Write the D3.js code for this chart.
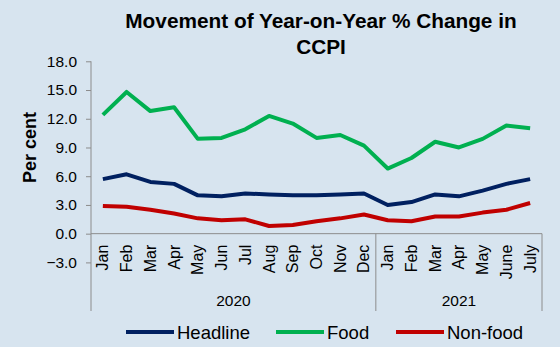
<!DOCTYPE html>
<html>
<head>
<meta charset="utf-8">
<script src="https://cdn.jsdelivr.net/npm/d3@7"></script>
<style>
  html, body { margin: 0; padding: 0; background: #d7e4ef; }
  svg { display: block; font-family: "Liberation Sans", Arial, sans-serif; }
</style>
</head>
<body>
<div id="chart"></div>
<script>
// month labels and year groups along the x axis
const months = ['Jan', 'Feb', 'Mar', 'Apr', 'May', 'Jun', 'Jul', 'Aug', 'Sep', 'Oct', 'Nov', 'Dec',
                'Jan', 'Feb', 'Mar', 'Apr', 'May', 'June', 'July'];
const years = ['2020', '2021'];
const yearLengths = [12, 7];

// year-on-year % change, CCPI
const headline = [5.7, 6.2, 5.4, 5.2, 4.0, 3.9, 4.2, 4.1, 4.0, 4.0, 4.1, 4.2,
                  3.0, 3.3, 4.1, 3.9, 4.5, 5.2, 5.7];
const food = [12.4, 14.8, 12.8, 13.2, 9.9, 10.0, 10.9, 12.3, 11.5, 10.0, 10.3, 9.2,
              6.8, 7.9, 9.6, 9.0, 9.9, 11.3, 11.0];
const nonFood = [2.9, 2.8, 2.5, 2.1, 1.6, 1.4, 1.5, 0.8, 0.9, 1.3, 1.6, 2.0,
                 1.4, 1.3, 1.8, 1.8, 2.2, 2.5, 3.2];

const yTicks = [-3, 0, 3, 6, 9, 12, 15, 18];

const series = [
    {name: 'Headline', values: headline, color: '#002060'},
    {name: 'Food', values: food, color: '#00b050'},
    {name: 'Non-food', values: nonFood, color: '#c00000'}
];

const width = 560, height = 347;
const plot = {left: 91, right: 542, top: 61.3, bottom: 262.4, axisEnd: 311};
const axisColor = '#8c8c8c';

const svg = d3.select('#chart').append('svg')
    .attr('width', width)
    .attr('height', height);

const x = d3.scaleBand()
    .domain(d3.range(months.length))
    .range([plot.left, plot.right]);
const y = d3.scaleLinear()
    .domain([-3, 18])
    .range([plot.bottom, plot.top]);

// title
svg.append('text')
    .attr('x', 321).attr('y', 28)
    .attr('text-anchor', 'middle')
    .attr('font-size', 20.8).attr('font-weight', 'bold')
    .text('Movement of Year-on-Year % Change in');
svg.append('text')
    .attr('x', 321).attr('y', 54)
    .attr('text-anchor', 'middle')
    .attr('font-size', 20.8).attr('font-weight', 'bold')
    .text('CCPI');

// y axis
const yAxis = d3.axisLeft(y)
    .tickValues(yTicks)
    .tickSize(5)
    .tickSizeOuter(0)
    .tickFormat(d3.format('.1f'));
const yAxisGroup = svg.append('g')
    .attr('transform', `translate(${plot.left}, 0)`)
    .call(yAxis);
yAxisGroup.select('.domain').remove();
yAxisGroup.selectAll('line').attr('stroke', axisColor);
yAxisGroup.selectAll('text')
    .attr('x', -14)
    .attr('font-size', 15.5)
    .attr('fill', '#000')
    .style('font-family', '"Liberation Sans", Arial, sans-serif');

svg.append('line')
    .attr('x1', plot.left).attr('x2', plot.left)
    .attr('y1', plot.top).attr('y2', plot.axisEnd)
    .attr('stroke', axisColor);

svg.append('text')
    .attr('transform', `translate(36, ${y(9)}) rotate(-90)`)
    .attr('text-anchor', 'middle')
    .attr('font-size', 18).attr('font-weight', 'bold')
    .text('Per cent');

// x axis along zero
svg.append('line')
    .attr('x1', plot.left).attr('x2', plot.right)
    .attr('y1', y(0)).attr('y2', y(0))
    .attr('stroke', axisColor);

svg.append('g')
    .selectAll('text')
    .data(months)
    .join('text')
    .attr('transform', (d, i) => `translate(${x(i) + x.bandwidth() / 2 + 5.5}, ${y(0) + 11}) rotate(-90)`)
    .attr('text-anchor', 'end')
    .attr('font-size', 16)
    .text(d => d);

// year groups with separators
const yearStarts = d3.cumsum([0, ...yearLengths]);
years.forEach((yr, k) => {
    const x0 = x(yearStarts[k]);
    const x1 = yearStarts[k + 1] < months.length ? x(yearStarts[k + 1]) : plot.right;
    svg.append('line')
        .attr('x1', x1).attr('x2', x1)
        .attr('y1', y(0)).attr('y2', plot.axisEnd)
        .attr('stroke', axisColor);
    svg.append('text')
        .attr('x', (x0 + x1) / 2).attr('y', 306)
        .attr('text-anchor', 'middle')
        .attr('font-size', 15.5)
        .text(yr);
});

// lines
const line = d3.line()
    .x((d, i) => x(i) + x.bandwidth() / 2)
    .y(d => y(d));

svg.append('g')
    .selectAll('path')
    .data(series)
    .join('path')
    .attr('d', d => line(d.values))
    .attr('fill', 'none')
    .attr('stroke', d => d.color)
    .attr('stroke-width', 4)
    .attr('stroke-linejoin', 'round');

// legend
const legendX = [126, 276, 396];
const legend = svg.append('g')
    .selectAll('g')
    .data(series)
    .join('g')
    .attr('transform', (d, i) => `translate(${legendX[i]}, 332)`);
legend.append('line')
    .attr('x1', 0).attr('x2', 48)
    .attr('stroke', d => d.color)
    .attr('stroke-width', 4);
legend.append('text')
    .attr('x', 51).attr('y', 6.5)
    .attr('font-size', 18.5)
    .text(d => d.name);
</script>
</body>
</html>
